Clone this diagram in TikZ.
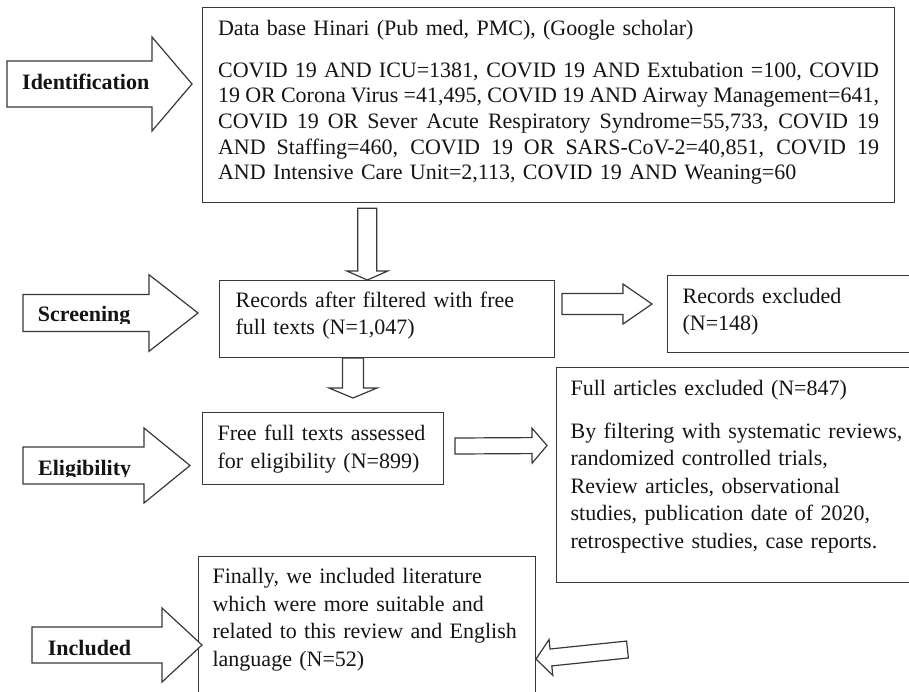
\documentclass[tikz,border=0pt]{standalone}
\usepackage{fontspec}
\setmainfont{Liberation Serif}
\usetikzlibrary{calc}
\tikzset{
  ln/.style={draw=black!78, line width=1.2pt},
  box/.style={ln, rectangle, anchor=north west, inner ysep=0pt, text=black!92},
  topfont/.style={font=\fontsize{22}{25.65}\selectfont},
  lowfont/.style={font=\fontsize{22}{27.5}\selectfont},
  lbl/.style={anchor=base west, inner sep=0pt, font=\fontsize{22}{26}\selectfont\bfseries, text=black!92},
  barrowstyle/.style={ln, fill=white, line join=miter}
}
% #1 start, #2 tip, #3 shaft half width, #4 head half width, #5 head length
\newcommand\blockarrow[5]{%
  \path ($(#2)!#5!(#1)$) coordinate (bah);
  \draw[barrowstyle] ($(#1)!#3!90:(#2)$) -- ($(bah)!#3!90:(#2)$) -- ($(bah)!#4!90:(#2)$) -- (#2)
    -- ($(bah)!#4!-90:(#2)$) -- ($(bah)!#3!-90:(#2)$) -- ($(#1)!#3!-90:(#2)$) -- cycle;
}
\newcommand\jline[1]{\makebox[661pt][s]{\spaceskip=0pt\xspaceskip=0pt #1}}
\begin{document}
\begin{tikzpicture}[x=1pt,y=-1pt]
\useasboundingbox (0,0) rectangle (909,691);

% ---- boxes ----
\node[box, topfont, text width=661pt, inner xsep=15.5pt, text height=28pt, text depth=167pt] (db) at (202,7)
{\mbox{Data base Hinari (Pub med, PMC), (Google scholar)}\\[16pt]
\jline{COVID 19 AND ICU=1381, COVID 19 AND Extubation =100, COVID}\\
\jline{19 OR Corona Virus =41,495, COVID 19 AND Airway Management=641,}\\
\jline{COVID 19 OR Sever Acute Respiratory Syndrome=55,733, COVID 19}\\
\jline{AND Staffing=460, COVID 19 OR SARS-CoV-2=40,851, COVID 19}\\
\mbox{AND Intensive Care Unit=2,113, COVID 19 AND Weaning=60}};

\node[box, lowfont, text width=303pt, inner xsep=16pt, text height=26.7pt, text depth=50.3pt] (scr) at (219,280)
{\mbox{Records after filtered with free}\\ \mbox{full texts (N=1,047)}};

\node[box, lowfont, text width=218pt, inner xsep=15pt, text height=27.7pt, text depth=49.3pt] (rex) at (667,275)
{\mbox{Records excluded}\\ (N=148)};

\node[box, lowfont, text width=211pt, inner xsep=15pt, text height=28pt, text depth=44pt] (elg) at (202,412)
{\mbox{Free full texts assessed}\\ \mbox{for eligibility (N=899)}};

\node[box, lowfont, text width=331pt, inner xsep=14pt, text height=28pt, text depth=187pt] (fax) at (556,367)
{\mbox{Full articles excluded (N=847)}\\[15.2pt]
\mbox{By filtering with systematic reviews,}\\
\mbox{randomized controlled trials,}\\
\mbox{Review articles, observational}\\
\mbox{studies, publication date of 2020,}\\
\mbox{retrospective studies, case reports.}};

\node[box, lowfont, text width=309pt, inner xsep=14pt, text height=27pt, text depth=117pt] (inc) at (198,556)
{\mbox{Finally, we included literature}\\
\mbox{which were more suitable and}\\
\mbox{related to this review and English}\\
\mbox{language (N=52)}};

% ---- label arrows ----
\coordinate (ia) at (7,84);    \coordinate (it) at (192,84);
\coordinate (sa) at (23,313);  \coordinate (st) at (198,313);
\coordinate (ea) at (23,465.5);\coordinate (et) at (190,465.5);
\coordinate (na) at (32,645);  \coordinate (nt) at (202,645);
\blockarrow{ia}{it}{23pt}{47pt}{40pt}
\blockarrow{sa}{st}{18.5pt}{38.3pt}{49pt}
\blockarrow{ea}{et}{18.5pt}{37.5pt}{46pt}
\blockarrow{na}{nt}{18pt}{37pt}{40pt}

\node[lbl] (lid) at (22,89) {Identification};
\begin{scope}
  \clip (30,290) rectangle (150,323.5);
  \node[lbl] (lsc) at (37.7,321.7) {Screening};
\end{scope}
\begin{scope}
  \clip (30,445) rectangle (150,476.5);
  \node[lbl] (lel) at (38,475) {Eligibility};
\end{scope}
\node[lbl] (lin) at (47.7,655) {Included};

% ---- flow arrows between boxes ----
\coordinate (d1a) at ($(db.south west)!0.2385!(db.south east)+(0,5)$);
\coordinate (d1t) at (d1a |- scr.north);
\blockarrow{d1a}{d1t}{9.5pt}{20.5pt}{9pt}

\coordinate (d2a) at (353,358);
\coordinate (d2t) at (353,398);
\blockarrow{d2a}{d2t}{10.5pt}{24pt}{10pt}

\coordinate (r1a) at (562,304);
\coordinate (r1t) at (652,304);
\blockarrow{r1a}{r1t}{10.5pt}{20pt}{29pt}

\coordinate (r2a) at (455,446);
\coordinate (r2t) at (547,445.5);
\blockarrow{r2a}{r2t}{8pt}{17.5pt}{15pt}

\coordinate (l1a) at (627.5,649.5);
\coordinate (l1t) at (536,659);
\blockarrow{l1a}{l1t}{8.5pt}{18pt}{15pt}
\end{tikzpicture}
\end{document}
